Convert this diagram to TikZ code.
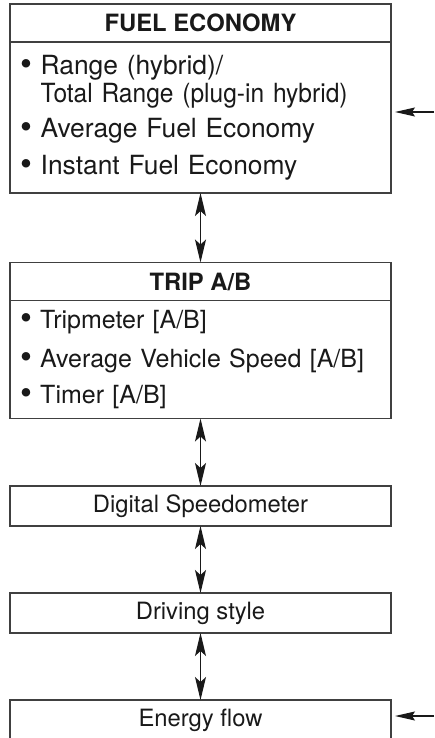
\documentclass[tikz,border=0pt]{standalone}
\usepackage{fontspec}
\setmainfont{TeX Gyre Heros}
\newfontfamily\narrowfont{TeX Gyre Heros}[FakeStretch=0.93]
\usetikzlibrary{positioning,arrows.meta}
\definecolor{framegray}{gray}{0.25}
\definecolor{inkdark}{gray}{0.1}
\newcommand{\bul}{\raisebox{-0.6pt}{\fontsize{17}{14}\selectfont\textbullet}\ }

\begin{document}
\begin{tikzpicture}[
  x=0.5pt, y=-0.5pt,
  font=\fontsize{11.9}{14}\selectfont, text=inkdark,
  frame/.style={draw=framegray, line width=0.7pt, minimum width=190.5pt,
                inner sep=0pt, outer sep=0pt},
  headbox/.style={frame, minimum height=19pt, font=\fontsize{11.9}{14}\selectfont\bfseries},
  listbox/.style={frame, minimum height=#1, text width=180.5pt, inner xsep=5pt, align=left,
                  font=\fontsize{13.2}{14}\selectfont},
  plainbox/.style={frame, minimum height=20pt},
  dbl/.style={{Stealth[length=11.5pt, width=5.5pt, inset=2.5pt]}-{Stealth[length=11.5pt, width=5.5pt, inset=2.5pt]},
              line width=0.6pt, draw=inkdark},
  arr/.style={-{Stealth[length=10pt, width=4.5pt, inset=1.5pt]}, line width=0.6pt, draw=inkdark}]
\useasboundingbox (0,0) rectangle (434,738);
\clip (0,0) rectangle (434,738);
% fuel economy screen
\node[headbox] (fehead) at (200.5,23) {FUEL ECONOMY};
\node[listbox=75.5pt, below=0pt of fehead] (febody) {\bul Range (hybrid)/\\
  \phantom{\bul}{\narrowfont Total Range (plug-in hybrid)}\\[3.5pt]
  \bul Average Fuel Economy\\[4.5pt]
  \bul Instant Fuel Economy};
% trip screen
\node[headbox] (triphead) at (200.5,281.5) {TRIP A/B};
\node[listbox=59pt, font=\fontsize{12.5}{14}\selectfont, below=0pt of triphead] (tripbody) {\bul Tripmeter [A/B]\\[5.5pt]
  \bul Average Vehicle Speed [A/B]\\[4pt]
  \bul Timer [A/B]};
% single screens
\node[plainbox] (speedo) at (200.5,506) {Digital Speedometer};
\node[plainbox] (drvstyle) at (200.5,613) {Driving style};
\node[plainbox] (eflow) at (200.5,720) {Energy flow};
\coordinate (fuelin) at (434,112);
\coordinate (flowin) at (434,716);
\draw[dbl] (febody) -- (triphead);
\draw[dbl] (tripbody) -- (speedo);
\draw[dbl] (speedo) -- (drvstyle);
\draw[dbl] (drvstyle) -- (eflow);
\draw[arr, shorten >=2pt] (fuelin) -- (fuelin -| febody.east);
\draw[arr, shorten >=2pt] (flowin) -- (flowin -| eflow.east);
\end{tikzpicture}
\end{document}
